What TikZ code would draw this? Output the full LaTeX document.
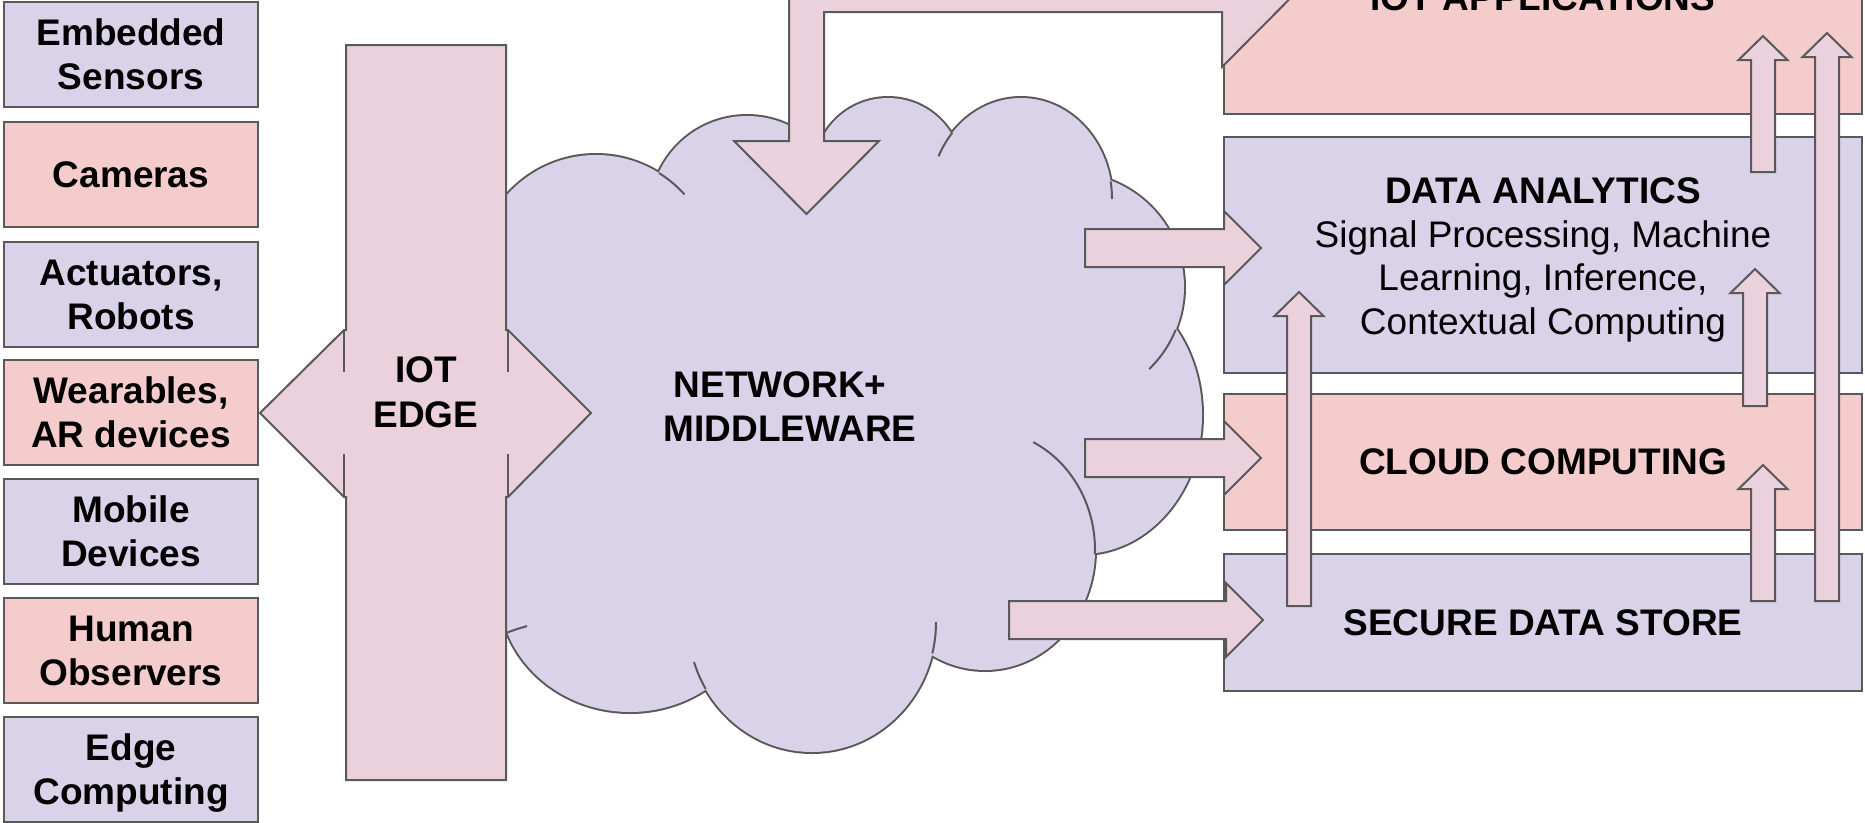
\documentclass[tikz,border=0pt]{standalone}
\usepackage{fontspec}
\setmainfont{Liberation Sans}
\definecolor{lav}{HTML}{D9D2E9}
\definecolor{rose}{HTML}{F4CCCC}
\definecolor{mauve}{HTML}{EAD1DC}
\definecolor{ink}{HTML}{595959}
\newcommand\lblsize{\fontsize{37}{44}\selectfont}
\tikzset{
  outline/.style={draw=ink, line width=2pt},
  devbox/.style={outline, minimum width=254pt, minimum height=105pt, inner sep=0pt,
                 align=center, font=\lblsize\bfseries},
  layerbox/.style={outline, minimum width=638pt, inner sep=0pt, align=center,
                   font=\lblsize\bfseries},
  blockarrow/.style={outline, fill=mauve, line join=miter},
  cloudline/.style={draw=ink, line width=2pt},
  caption/.style={inner sep=0pt, align=center, font=\lblsize\bfseries},
}
% lobes of the cloud: centre x / centre y / x radius / y radius
\newcommand\cloudlobes{596/274/119/119, 747/213/97/97, 888/172/74/74,
  1021/199/91/101, 1070/287/114/114, 1082/415/120/139, 985/550/110/120,
  812/622/124/130, 630/590/131/122}
% upward block arrow: centre x, tail y, tip y
\newcommand\riseArrow[3]{\draw[blockarrow] (#1-12,#2) -- (#1-12,#3+24) -- (#1-24.5,#3+24)
  -- (#1,#3) -- (#1+24.5,#3+24) -- (#1+12,#3+24) -- (#1+12,#2) -- cycle;}
% rightward block arrow: tail x, centre y, tip x
\newcommand\feedArrow[3]{\draw[blockarrow] (#1,#2-19) -- (#3-37,#2-19) -- (#3-37,#2-37)
  -- (#3,#2) -- (#3-37,#2+37) -- (#3-37,#2+19) -- (#1,#2+19) -- cycle;}
\begin{document}
\begin{tikzpicture}[x=1pt,y=-1pt]
\useasboundingbox (0,0) rectangle (1865,822);
\clip (0,0) rectangle (1865,822);

% device column
\node[devbox, fill=lav]  (sensors)   at (131,54.5)  {Embedded\\Sensors};
\node[devbox, fill=rose] (cameras)   at (131,174.5) {Cameras};
\node[devbox, fill=lav]  (actuators) at (131,294.5) {Actuators,\\Robots};
\node[devbox, fill=rose] (wearables) at (131,412.5) {Wearables,\\AR devices};
\node[devbox, fill=lav]  (mobile)    at (131,531)   {Mobile\\Devices};
\node[devbox, fill=rose] (humans)    at (131,650.5) {Human\\Observers};
\node[devbox, fill=lav]  (edgecomp)  at (131,769)   {Edge\\\smash{Computing}};

% network cloud: union of lobes
\foreach \cx/\cy/\rx/\ry in \cloudlobes
  \draw[ink, line width=4pt] (\cx,\cy) ellipse[x radius=\rx, y radius=\ry];
\foreach \cx/\cy/\rx/\ry in \cloudlobes
  \fill[lav] (\cx,\cy) ellipse[x radius=\rx, y radius=\ry];
\fill[lav] (480,210) -- (700,200) -- (900,160) -- (1050,250) -- (1150,300)
  -- (1150,450) -- (1050,560) -- (950,620) -- (800,640) -- (650,620) -- (480,615) -- cycle;
% inner ends of the lobe arcs
\draw[cloudline] plot[domain=-58:-42, samples=24] ({596+119*cos(\x)},{274+119*sin(\x)});
\draw[cloudline] plot[domain=-155:-139, samples=24] ({1021+91*cos(\x)},{199+101*sin(\x)});
\draw[cloudline] plot[domain=-10:0, samples=12] ({1021+91*cos(\x)},{199+101*sin(\x)});
\draw[cloudline] plot[domain=22:46, samples=24] ({1070+114*cos(\x)},{287+114*sin(\x)});
\draw[cloudline] plot[domain=-64:2, samples=40] ({985+110*cos(\x)},{550+120*sin(\x)});
\draw[cloudline] plot[domain=0:14, samples=12] ({812+124*cos(\x)},{622+130*sin(\x)});
\draw[cloudline] plot[domain=149:162, samples=12] ({812+124*cos(\x)},{622+130*sin(\x)});
\draw[cloudline] (506,633) .. controls (514,630) .. (527,626);
\node[caption] (network) at (790,407) {NETWORK+\hspace*{20pt}\\MIDDLEWARE};

% IoT edge bar with its two-way arrow
\draw[blockarrow] (346,45) -- (506,45) -- (506,330) -- (508,330) -- (591,413) -- (508,497)
  -- (506,497) -- (506,780) -- (346,780) -- (346,497) -- (344,497) -- (260,413)
  -- (344,330) -- (346,330) -- cycle;
\draw[outline] (344,330) -- (344,372) (344,454) -- (344,497)
               (508,330) -- (508,372) (508,454) -- (508,497);
\node[caption, font=\fontsize{37}{45}\selectfont\bfseries] (iotedge) at (426,392) {IOT\\EDGE};

% layer stack
\node[layerbox, fill=rose, minimum height=254pt] (apps) at (1543,-13) {};
\node[caption, anchor=base] (appstitle) at (1543,10) {IOT APPLICATIONS};
\node[layerbox, fill=lav, minimum height=236pt] (analytics) at (1543,255) {};
\node[caption, anchor=north, font=\fontsize{37}{43.5}\selectfont] (analyticstext) at (1543,177.5)
  {\textbf{DATA ANALYTICS}\\Signal Processing, Machine\\Learning, Inference,\\Contextual Computing};
\node[layerbox, fill=rose, minimum height=136pt] (cloudcomp) at (1543,462) {CLOUD COMPUTING};
\node[layerbox, fill=lav, minimum height=137pt] (store) at (1543,622.5) {SECURE DATA STORE};

% cloud feeding the layers
\feedArrow{1085}{248}{1261}
\feedArrow{1085}{458}{1261}
\feedArrow{1009}{620}{1263}

% applications back down into the network
\draw[blockarrow] (789,-23) -- (1222,-23) -- (1222,-78) -- (1294,-5.5) -- (1222,67)
  -- (1222,12) -- (824,12) -- (824,141) -- (879,141) -- (806.5,214) -- (734,141)
  -- (789,141) -- cycle;

% flows up the stack
\riseArrow{1299}{606}{292}
\riseArrow{1755}{406}{269}
\riseArrow{1763}{601}{465}
\riseArrow{1763}{172}{36}
\riseArrow{1827}{601}{33}
\end{tikzpicture}
\end{document}
